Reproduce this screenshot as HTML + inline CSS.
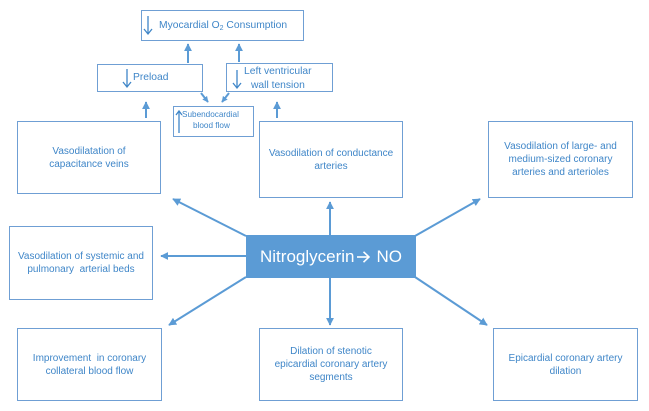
<!DOCTYPE html>
<html><head><meta charset="utf-8"><style>
html,body{margin:0;padding:0;background:#fff;}
body{width:649px;height:411px;position:relative;overflow:hidden;font-family:"Liberation Sans",Arial,sans-serif;}
.b{position:absolute;box-sizing:border-box;border:1px solid #6f9fd4;display:flex;align-items:center;justify-content:center;text-align:center;color:#3f86c8;font-size:10px;line-height:13px;background:#fff;}
.t{position:absolute;color:#3f86c8;font-size:10px;line-height:13px;white-space:nowrap;}
svg{position:absolute;left:0;top:0;}
</style></head><body>
<!-- boxes -->
<div class="b" style="left:141px;top:10px;width:163px;height:31px;"></div>
<div class="b" style="left:97px;top:64px;width:106px;height:28px;"></div>
<div class="b" style="left:226px;top:63px;width:107px;height:29px;"></div>
<div class="b" style="left:173px;top:106px;width:81px;height:31px;"></div>

<div class="b" style="left:17px;top:121px;width:144px;height:73px;">Vasodilatation of<br>capacitance veins</div>
<div class="b" style="left:259px;top:121px;width:144px;height:77px;">Vasodilation of conductance<br>arteries</div>
<div class="b" style="left:488px;top:121px;width:145px;height:77px;">Vasodilation of large- and<br>medium-sized coronary<br>arteries and arterioles</div>
<div class="b" style="left:9px;top:226px;width:144px;height:74px;">Vasodilation of systemic and<br>pulmonary&nbsp; arterial beds</div>
<div class="b" style="left:17px;top:328px;width:145px;height:73px;">Improvement&nbsp; in coronary<br>collateral blood flow</div>
<div class="b" style="left:259px;top:328px;width:144px;height:73px;">Dilation of stenotic<br>epicardial coronary artery<br>segments</div>
<div class="b" style="left:493px;top:328px;width:145px;height:73px;">Epicardial coronary artery<br>dilation</div>

<div style="position:absolute;left:246px;top:235px;width:170px;height:43px;background:#5b9bd5;color:#fff;font-size:17px;display:flex;align-items:center;justify-content:center;">Nitroglycerin<svg style="position:static;margin:0 6px 0 3px;" width="13" height="12" viewBox="0 0 13 12"><g stroke="#fff" stroke-width="1.6" fill="none"><line x1="0" y1="6" x2="12" y2="6"/><polyline points="6.5,0.8 12,6 6.5,11.2"/></g></svg>NO</div>

<!-- top texts -->
<div class="t" style="left:159px;top:19px;font-size:10.3px;">Myocardial O<sub style="font-size:7px;vertical-align:-2px;">2</sub> Consumption</div>
<div class="t" style="left:133px;top:71px;font-size:10.3px;">Preload</div>
<div class="t" style="left:244px;top:65px;font-size:10.3px;">Left ventricular</div>
<div class="t" style="left:251px;top:79px;font-size:10.3px;">wall tension</div>
<div class="t" style="left:182px;top:109px;font-size:8.2px;line-height:11px;">Subendocardial</div>
<div class="t" style="left:193px;top:120px;font-size:8.2px;line-height:11px;">blood flow</div>

<svg width="649" height="411" viewBox="0 0 649 411">
<defs>
<marker id="a" viewBox="0 0 10 10" refX="9" refY="5" markerWidth="8" markerHeight="8" markerUnits="userSpaceOnUse" orient="auto"><path d="M0,0 L10,5 L0,10 z" fill="#5b9bd5"/></marker>
<marker id="s" viewBox="0 0 10 10" refX="9" refY="5" markerWidth="6" markerHeight="6" markerUnits="userSpaceOnUse" orient="auto"><path d="M0,0 L10,5 L0,10 z" fill="#5b9bd5"/></marker>
</defs>
<g stroke="#5b9bd5" stroke-width="2" fill="none">
<!-- center arrows -->
<line x1="330" y1="235" x2="330" y2="202" marker-end="url(#a)"/>
<line x1="246" y1="256" x2="161" y2="256" marker-end="url(#a)"/>
<line x1="246" y1="236" x2="173" y2="199" marker-end="url(#a)"/>
<line x1="415" y1="236" x2="480" y2="199" marker-end="url(#a)"/>
<line x1="246" y1="277" x2="169" y2="325" marker-end="url(#a)"/>
<line x1="415" y1="277" x2="487" y2="325" marker-end="url(#a)"/>
<line x1="330" y1="278" x2="330" y2="325" marker-end="url(#a)"/>
<!-- top arrows -->
<line x1="188" y1="63" x2="188" y2="44" marker-end="url(#a)"/>
<line x1="239" y1="62" x2="239" y2="44" marker-end="url(#a)"/>
<line x1="146" y1="118" x2="146" y2="102" marker-end="url(#a)"/>
<line x1="277" y1="118" x2="277" y2="102" marker-end="url(#a)"/>
<line x1="201" y1="93" x2="208" y2="102" marker-end="url(#s)"/>
<line x1="229" y1="93" x2="222" y2="102" marker-end="url(#s)"/>
</g>
<!-- thin glyph arrows -->
<g stroke="#3f86c8" stroke-width="1.3" fill="none">
<line x1="148" y1="16" x2="148" y2="33"/><polyline points="144,29 148,34 152,29"/>
<line x1="127" y1="69" x2="127" y2="86"/><polyline points="123,82 127,87 131,82"/>
<line x1="237" y1="70" x2="237" y2="87"/><polyline points="233,83 237,88 241,83"/>
<line x1="179" y1="112" x2="179" y2="133"/><polyline points="176,115 179,111 182,115"/>
</g>
</svg>
</body></html>
